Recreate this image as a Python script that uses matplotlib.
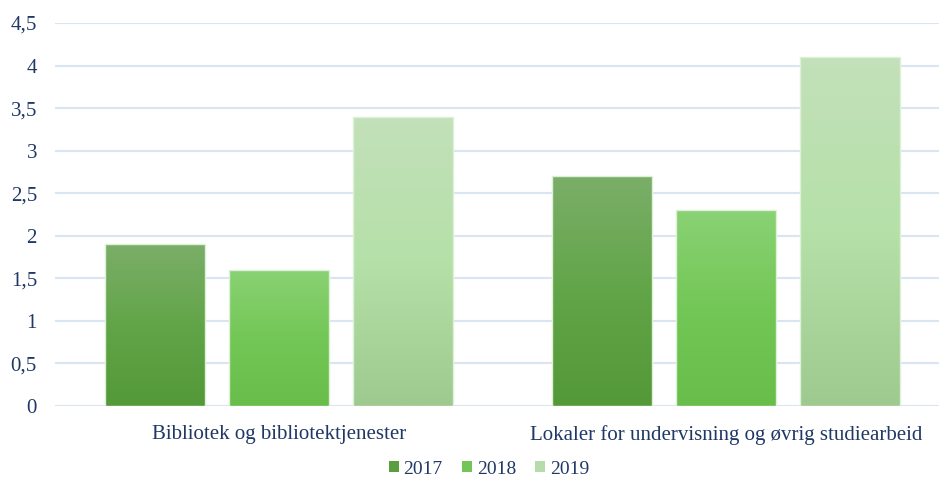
import numpy as np
import matplotlib
matplotlib.use("Agg")
import matplotlib.pyplot as plt
from matplotlib.colors import LinearSegmentedColormap
from matplotlib.patches import Patch

categories = ["Bibliotek og bibliotektjenester", "Lokaler for undervisning og øvrig studiearbeid"]
series = ["2017", "2018", "2019"]
values = {
    "2017": [1.9, 2.7],
    "2018": [1.6, 2.3],
    "2019": [3.4, 4.1],
}
yticks = [0, 0.5, 1, 1.5, 2, 2.5, 3, 3.5, 4, 4.5]
ytick_labels = ["0", "0,5", "1", "1,5", "2", "2,5", "3", "3,5", "4", "4,5"]

# gradient colours (top, middle, bottom)
grad = {
    "2017": ["#7bae69", "#62a548", "#539839"],
    "2018": ["#8ad275", "#73c756", "#69bd4a"],
    "2019": ["#c3e0ba", "#b5e1a8", "#9ec98f"],
}
legend_colors = {"2017": "#5a9e40", "2018": "#74c557", "2019": "#b7dcab"}

text_color = "#1f3864"
plt.rcParams["font.family"] = ["Liberation Serif", "DejaVu Serif"]

fig = plt.figure(figsize=(9.39, 4.79), dpi=100)
W, H = 939, 479
ax = fig.add_axes([55 / W, (H - 406) / H, (939 - 55) / W, (406 - 23) / H])

bar_w = 0.223
offset = 0.277
x = np.arange(len(categories))
for i, s in enumerate(series):
    pos = x + (i - 1) * offset
    bars = ax.bar(pos, values[s], width=bar_w, color="none",
                  edgecolor="#dff0d8", linewidth=1.0, zorder=3)
    cmap = LinearSegmentedColormap.from_list(s, grad[s][::-1])
    for b in bars:
        bx, by = b.get_x(), b.get_y()
        bw, bh = b.get_width(), b.get_height()
        g = np.linspace(0, 1, 256).reshape(-1, 1)
        im = ax.imshow(g, cmap=cmap, aspect="auto", origin="lower",
                       extent=[bx, bx + bw, by, by + bh], zorder=2,
                       interpolation="bilinear")
        im.set_clip_path(b)

ax.set_xlim(-0.5, 1.5 - (950 - 939) / 448)
ax.set_ylim(0, 4.5)
ax.set_yticks(yticks)
ax.set_yticklabels(ytick_labels)
ax.set_xticks(x)
ax.set_xticklabels(categories)
ax.yaxis.grid(True, color="#dae5f3", linewidth=1.5, zorder=0)
ax.set_axisbelow(True)
for sp in ax.spines.values():
    sp.set_visible(False)
ax.tick_params(axis="both", length=0, colors=text_color, labelsize=15)
ax.tick_params(axis="y", pad=13)
ax.tick_params(axis="x", pad=14)
for lab in ax.get_yticklabels() + ax.get_xticklabels():
    lab.set_color(text_color)

handles = [Patch(facecolor=legend_colors[s], edgecolor="none", label=s) for s in series]
leg = fig.legend(handles=handles, loc="center", bbox_to_anchor=(489 / W, (H - 469) / H),
                 ncol=3, frameon=False, fontsize=14, handlelength=0.5, handleheight=0.5,
                 handletextpad=0.25, columnspacing=1.0)
for t in leg.get_texts():
    t.set_color(text_color)

fig.savefig("out.png", dpi=100)
